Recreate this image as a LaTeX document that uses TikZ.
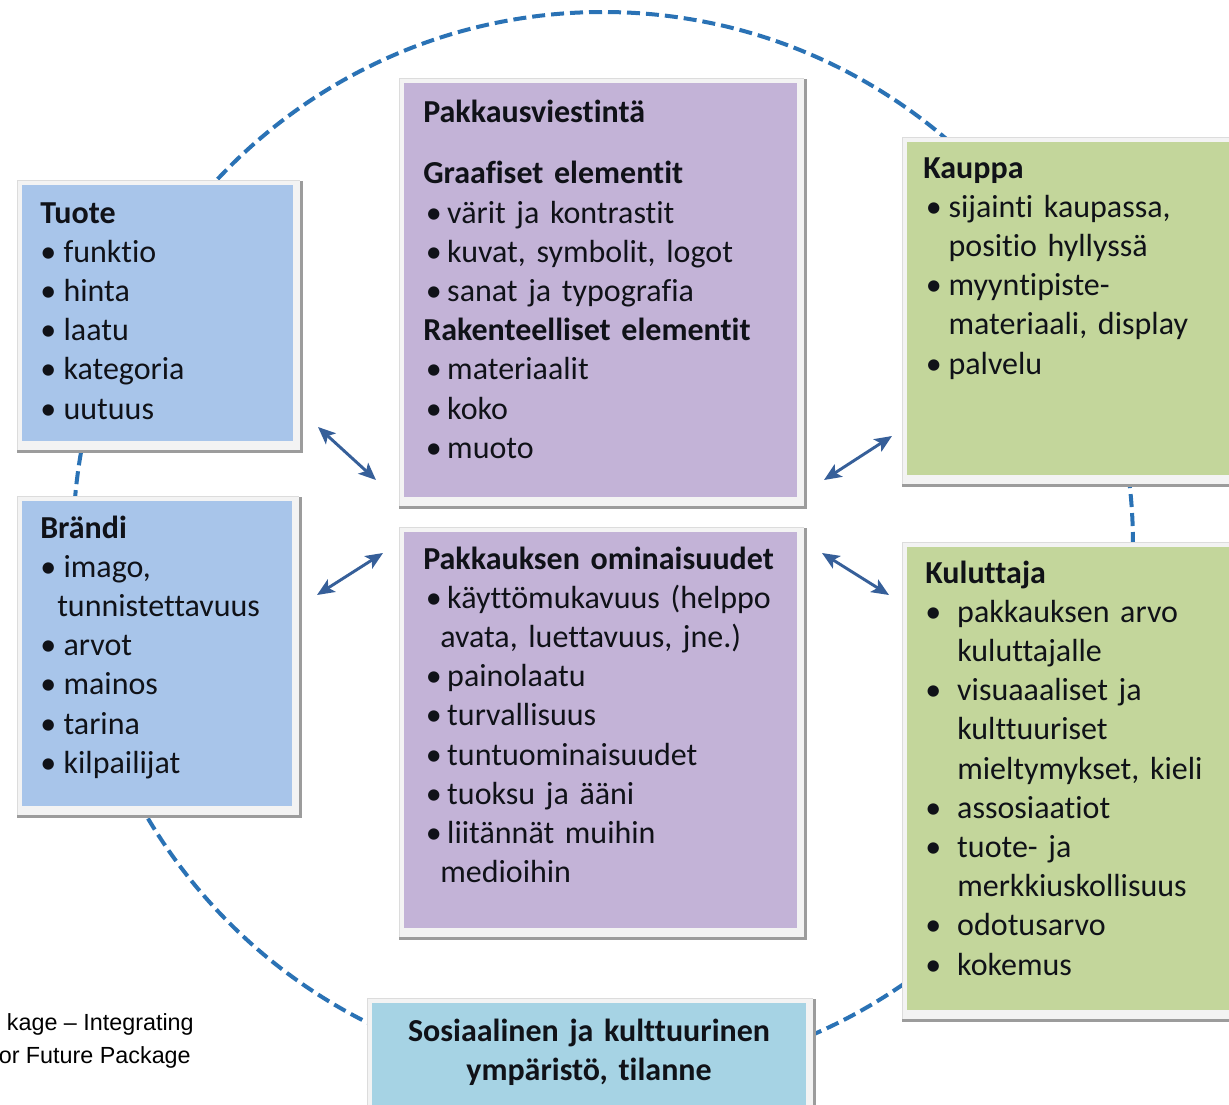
\documentclass[tikz,border=0pt]{standalone}
\usepackage{fontspec}
\setmainfont{Carlito}[Ligatures=NoCommon]
\newfontfamily\arialfont{Liberation Sans}
\usetikzlibrary{arrows.meta,fit}
\definecolor{cblue}{HTML}{A8C5EA}
\definecolor{cpurple}{HTML}{C3B3D7}
\definecolor{cgreen}{HTML}{C3D69B}
\definecolor{caqua}{HTML}{A6D3E4}
\definecolor{cframe}{HTML}{F3F3F3}
\definecolor{cframeedge}{HTML}{DCDCDC}
\definecolor{cshadow}{HTML}{9C9C9C}
\definecolor{ccircle}{HTML}{2A72B5}
\definecolor{carrow}{HTML}{365F99}
\definecolor{ctext}{HTML}{101218}
\newcommand\bul[3][0pt]{\makebox[#2][l]{\hspace{#1}•}#3}
\newcommand\cnt[2]{\hspace*{#1}#2}
\tikzset{
  panelfill/.style={inner sep=0pt, outer sep=0pt, fill=#1},
  boxtext/.style={anchor=base west, inner sep=0pt, text width=320pt, align=left, text=ctext, font=\fontsize{24pt}{29.4pt}\selectfont},
  ring/.style={draw=ccircle, line width=3pt, dash pattern=on 9.75pt off 4.5pt},
  biarrow/.style={draw=carrow, line width=2.2pt, {Stealth[length=13pt,width=11pt,inset=3pt]}-{Stealth[length=13pt,width=11pt,inset=3pt]}},
  captext/.style={anchor=base east, inner sep=0pt, font=\arialfont\fontsize{17.5pt}{21pt}\selectfont, text=black},
}
\newcommand\panel[6]{%
  \fill[cframe] (#2-5,#3-5) rectangle (#4+7,#5+9);
  \draw[cframeedge, line width=0.75pt] (#2-5,#5+9) -- (#2-5,#3-5) -- (#4+7,#3-5);
  \draw[cshadow, line width=2.25pt] (#2-5,#5+10) -- (#4+8,#5+10) -- (#4+8,#3-4);
  \node[panelfill=#6, fit={(#2,#3)(#4,#5)}] (#1) {};
}
\begin{document}
\begin{tikzpicture}[x=0.75pt,y=-0.75pt]
\useasboundingbox (0,0) rectangle (1229,1104);
\clip (0,0) rectangle (1229,1104);
\fill[white] (0,0) rectangle (1229,1104);

% dashed ring
\draw[ring] (603,545) ellipse [x radius=397.5pt, y radius=399.75pt];

% panels
\panel{tuote}{22}{185}{293}{441}{cblue}
\panel{brandi}{22}{501}{292}{806}{cblue}
\panel{viesti}{404}{83}{797}{497}{cpurple}
\panel{omin}{404}{532}{797}{928}{cpurple}
\panel{kauppa}{907}{142}{1240}{475}{cgreen}
\panel{kuluttaja}{907}{547}{1240}{1010}{cgreen}
\panel{sos}{372}{1003}{806}{1115}{caqua}

% arrows
\coordinate (a1s) at (318,427); \coordinate (a1e) at (376,480);
\coordinate (a2s) at (383,553); \coordinate (a2e) at (317,595);
\coordinate (a3s) at (892,436); \coordinate (a3e) at (824,480);
\coordinate (a4s) at (822,553); \coordinate (a4e) at (889,595);
\draw[biarrow] (a1s) -- (a1e);
\draw[biarrow] (a2s) -- (a2e);
\draw[biarrow] (a3s) -- (a3e);
\draw[biarrow] (a4s) -- (a4e);

% texts
\node[boxtext] (tuoteT) at (40,223) {\strut\textbf{Tuote}\\
\bul{17.5pt}{funktio}\\
\bul{17.5pt}{hinta}\\
\bul{17.5pt}{laatu}\\
\bul{17.5pt}{kategoria}\\
\bul{17.5pt}{uutuus}};

\node[boxtext] (brandiT) at (40,538) {\strut\textbf{Brändi}\\
\bul{17.5pt}{imago,}\\
\cnt{12.75pt}{tunnistettavuus}\\
\bul{17.5pt}{arvot}\\
\bul{17.5pt}{mainos}\\
\bul{17.5pt}{tarina}\\
\bul{17.5pt}{kilpailijat}};

\node[boxtext] (viestiT) at (423,122) {\strut\textbf{Pakkausviestintä}\\[17pt]
\textbf{Graafiset elementit}\\
\bul[2pt]{18pt}{värit ja kontrastit}\\
\bul[2pt]{18pt}{kuvat, symbolit, logot}\\
\bul[2pt]{18pt}{sanat ja typografia}\\
\textbf{Rakenteelliset elementit}\\
\bul[2pt]{18pt}{materiaalit}\\
\bul[2pt]{18pt}{koko}\\
\bul[2pt]{18pt}{muoto}};

\node[boxtext] (ominT) at (423,569) {\strut\textbf{Pakkauksen ominaisuudet}\\
\bul[2pt]{18pt}{käyttömukavuus (helppo}\\
\cnt{12.75pt}{avata, luettavuus, jne.)}\\
\bul[2pt]{18pt}{painolaatu}\\
\bul[2pt]{18pt}{turvallisuus}\\
\bul[2pt]{18pt}{tuntuominaisuudet}\\
\bul[2pt]{18pt}{tuoksu ja ääni}\\
\bul[2pt]{18pt}{liitännät muihin}\\
\cnt{12.75pt}{medioihin}};

\node[boxtext] (kauppaT) at (923,178) {\strut\textbf{Kauppa}\\
\bul[2pt]{19pt}{sijainti kaupassa,}\\
\cnt{19pt}{positio hyllyssä}\\
\bul[2pt]{19pt}{myyntipiste-}\\
\cnt{19pt}{materiaali, display}\\
\bul[2pt]{19pt}{palvelu}};

\node[boxtext] (kuluttajaT) at (925,583) {\strut\textbf{Kuluttaja}\\
\bul{24pt}{pakkauksen arvo}\\
\cnt{24pt}{kuluttajalle}\\
\bul{24pt}{visuaaaliset ja}\\
\cnt{24pt}{kulttuuriset}\\
\cnt{24pt}{mieltymykset, kieli}\\
\bul{24pt}{assosiaatiot}\\
\bul{24pt}{tuote- ja}\\
\cnt{24pt}{merkkiuskollisuus}\\
\bul{24pt}{odotusarvo}\\
\bul{24pt}{kokemus}};

\node[anchor=base, inner sep=0pt, text width=330pt, align=center, text=ctext, font=\bfseries\fontsize{24pt}{29.4pt}\selectfont] (sosT) at (589,1041) {\strut Sosiaalinen ja kulttuurinen\\ympäristö, tilanne};

% caption fragment
\node[captext] (cap1) at (194,1030) {kage – Integrating};
\node[captext] (cap2) at (191,1063) {or Future Package};
\end{tikzpicture}
\end{document}
